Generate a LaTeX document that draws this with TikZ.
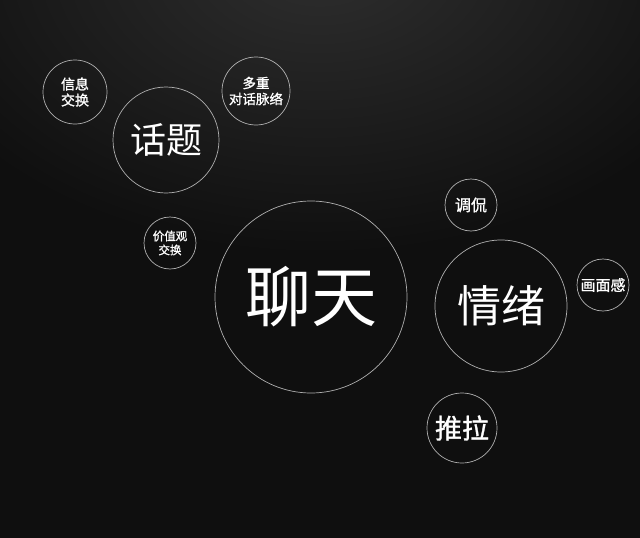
\documentclass[tikz,border=0pt]{standalone}
\usepackage{fontspec}
\newfontfamily\cjk{Noto Sans CJK SC}
\newfontfamily\cjkb[FakeBold=1.2]{Noto Sans CJK SC}
\definecolor{bgdark}{HTML}{0F0F0F}
\definecolor{bglight}{HTML}{2E2E2E}
\definecolor{ringgray}{HTML}{B0B0B0}
\begin{document}
\begin{tikzpicture}[x=1pt,y=-1pt,
  bubble/.style={circle,draw=ringgray,line width=0.7pt,text=white,align=center,inner sep=0pt,minimum size=#1}]
% background with glow at the top
\fill[bgdark] (0,0) rectangle (640,538);
\begin{scope}
\clip (0,0) rectangle (640,538);
\foreach \i in {0,...,31}{
  \pgfmathsetmacro\f{1-\i/32}
  \pgfmathsetmacro\p{\i*100/31}
  \fill[bglight!\p!bgdark] (320,-40) ellipse ({450*\f} and {300*\f});
}
\end{scope}
\useasboundingbox (0,0) rectangle (640,538);
% main topics
\node[bubble=192pt,font=\cjk\fontsize{66}{72}\selectfont] (liaotian) at (311,297) {聊天};
\node[bubble=106pt,font=\cjk\fontsize{36}{40}\selectfont] (huati) at (166,140) {话题};
\node[bubble=132pt,font=\cjk\fontsize{44}{48}\selectfont] (qingxu) at (501,306) {情绪};
\node[bubble=70pt,font=\cjkb\fontsize{27}{30}\selectfont] (tuila) at (462,428) {推拉};
% small bubbles
\node[bubble=64pt,font=\cjkb\fontsize{14}{16}\selectfont] (xinxi) at (75,92) {信息\\交换};
\node[bubble=68pt,font=\cjkb\fontsize{13.5}{16}\selectfont] (duochong) at (256,91) {多重\\对话脉络};
\node[bubble=52pt,font=\cjkb\fontsize{11.5}{14}\selectfont] (jiazhi) at (170,243) {价值观\\交换};
\node[bubble=52pt,font=\cjkb\fontsize{16}{18}\selectfont] (tiaokan) at (471,205) {调侃};
\node[bubble=52pt,font=\cjkb\fontsize{15}{18}\selectfont] (huamian) at (603,285) {画面感};
\end{tikzpicture}
\end{document}
